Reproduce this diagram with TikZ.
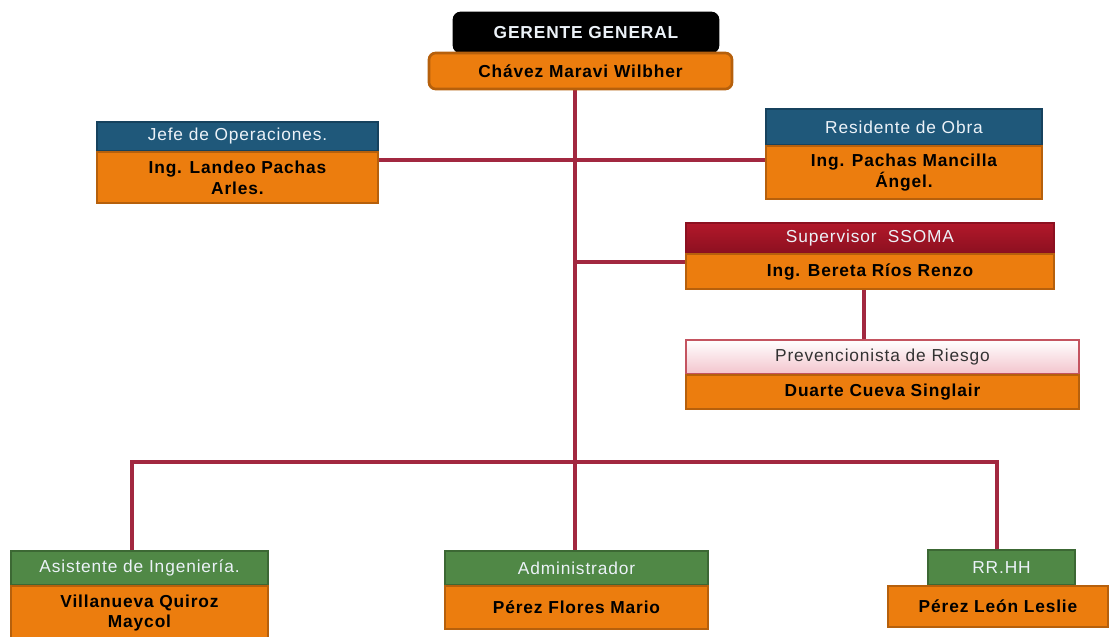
\documentclass[tikz,border=0pt]{standalone}
\usepackage{fontspec}
\setmainfont{Liberation Sans}
\newfontfamily\hdrfont[LetterSpace=5]{Liberation Sans}
\newfontfamily\namefont[LetterSpace=5]{Liberation Sans}
\usetikzlibrary{backgrounds}
\definecolor{orgfill}{RGB}{236,125,14}
\definecolor{orgline}{RGB}{182,96,12}
\definecolor{bluefill}{RGB}{31,88,122}
\definecolor{blueline}{RGB}{22,66,94}
\definecolor{greenfill}{RGB}{80,136,70}
\definecolor{greenline}{RGB}{60,104,52}
\definecolor{redtop}{RGB}{178,24,42}
\definecolor{redbot}{RGB}{140,16,32}
\definecolor{pinkbot}{RGB}{243,196,204}
\definecolor{pinkline}{RGB}{196,84,96}
\definecolor{conn}{RGB}{162,40,64}
\definecolor{hdrtext}{RGB}{236,242,248}
\tikzset{
  box/.style={inner sep=0pt, line width=2pt, align=center},
  namebox/.style={box, fill=orgfill, draw=orgline, font=\namefont\fontsize{13}{15.5}\selectfont\bfseries, text=black},
  hdr/.style={box, font=\hdrfont\fontsize{13}{15}\selectfont, text=hdrtext},
  bluehdr/.style={hdr, fill=bluefill, draw=blueline},
  greenhdr/.style={hdr, fill=greenfill, draw=greenline},
  redhdr/.style={hdr, top color=redtop, bottom color=redbot, draw=redbot, line width=1pt},
  pinkhdr/.style={hdr, top color=white, bottom color=pinkbot, draw=pinkline, line width=1pt, text=black!80},
  blackhdr/.style={hdr, fill=black, draw=black, rounded corners=5pt, font=\namefont\fontsize{13}{15}\selectfont\bfseries},
  link/.style={draw=conn, line width=3pt}
}
% \bx{style}{x1}{y1}{x2}{y2}{name}{text}
\newcommand\bx[7]{\node[#1, minimum width={(#4-#2)*0.75pt}, minimum height={(#5-#3)*0.75pt}] (#6) at ({(#2+#4)/2},{(#3+#5)/2}) {#7};}
\begin{document}
\begin{tikzpicture}[x=0.75pt, y=-0.75pt]
\useasboundingbox (0,0) rectangle (1110,636);
% coordinates for connector routing
\coordinate (trunk) at (575,462);
\coordinate (hy) at (575,160);
\coordinate (sy) at (575,262);
\coordinate (sv) at (864,300);
\coordinate (bl) at (132,462);
\coordinate (br) at (997,462);

% boxes
\bx{blackhdr}{454}{13}{718}{52}{gh}{GERENTE GENERAL}
\bx{namebox, rounded corners=5pt}{429}{53}{732}{89}{gn}{Chávez Maravi Wilbher}

\bx{bluehdr}{97}{122}{378}{151}{jh}{Jefe de Operaciones.}
\bx{namebox}{97}{152}{378}{203}{jn}{Ing. Landeo Pachas\\Arles.}

\bx{bluehdr}{766}{109}{1042}{145}{rh}{Residente de Obra}
\bx{namebox}{766}{146}{1042}{199}{rn}{Ing. Pachas Mancilla\\Ángel.}

\bx{redhdr}{686}{223}{1054}{253}{sh}{Supervisor\ \ SSOMA}
\bx{namebox}{686}{254}{1054}{289}{sn}{Ing. Bereta Ríos Renzo}

\bx{pinkhdr}{686}{340}{1079}{374}{ph}{Prevencionista de Riesgo}
\bx{namebox}{686}{375}{1079}{409}{pn}{Duarte Cueva Singlair}

\bx{greenhdr}{11}{551}{268}{585}{ah}{Asistente de Ingeniería.}
\bx{namebox}{11}{586}{268}{640}{an}{Villanueva Quiroz\\Maycol}

\bx{greenhdr}{445}{551}{708}{585}{dh}{Administrador}
\bx{namebox}{445}{586}{708}{629}{dn}{Pérez Flores Mario}

\bx{greenhdr}{928}{550}{1075}{585}{hh}{RR.HH}
\bx{namebox}{888}{586}{1108}{627}{hn}{Pérez León Leslie}

% connectors, behind the boxes
\begin{scope}[on background layer]
\draw[link] (gn.south -| trunk) -- (dh.north -| trunk);
\draw[link] (hy -| jn.east) -- (hy -| rn.west);
\draw[link] (sy) -- (sy -| sn.west);
\draw[link] (sv |- sn.south) -- (sv |- ph.north);
\draw[link] (bl |- ah.north) -- (bl) -- (br) -- (br |- hh.north);
\end{scope}
\end{tikzpicture}
\end{document}
